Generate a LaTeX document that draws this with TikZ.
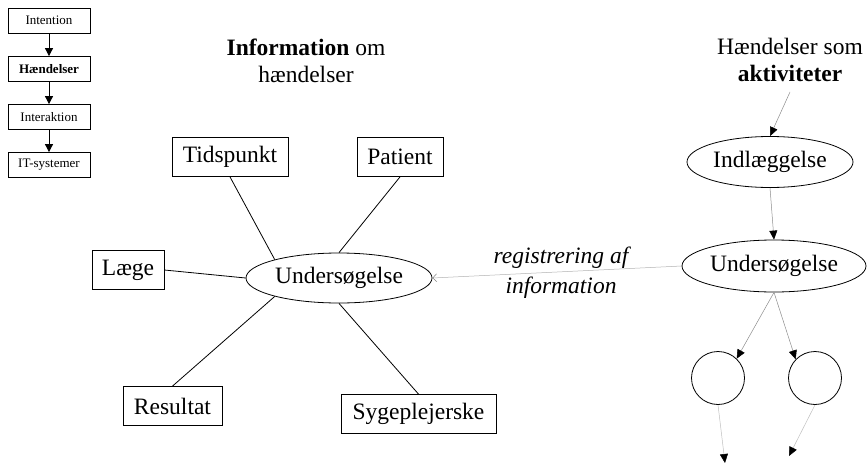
\documentclass[tikz,border=0pt]{standalone}
\usepackage{fontspec}
\setmainfont{Liberation Serif}
\usetikzlibrary{shapes.geometric,arrows.meta}
\begin{document}
\begin{tikzpicture}[x=1pt,y=-1pt,
  big/.style={font=\fontsize{23.5}{27}\selectfont},
  small/.style={font=\fontsize{13}{15}\selectfont},
  sbox/.style={draw,line width=0.8pt,rectangle,small,minimum width=82pt,minimum height=25pt,inner sep=0pt},
  bbox/.style={draw,line width=0.8pt,rectangle,big,minimum height=39pt,inner sep=0pt},
  ell/.style={draw,line width=0.8pt,ellipse,big,inner sep=0pt},
  circ/.style={draw,line width=0.8pt,circle,minimum size=53pt,inner sep=0pt},
  blk/.style={line width=0.8pt,-{Triangle[length=8pt,width=8pt]}},
  gry/.style={draw=black!45,line width=0.5pt,-{Triangle[length=9pt,width=8pt,color=black]}},
  spoke/.style={line width=0.8pt}
]
\useasboundingbox (0,0) rectangle (867,463);

% left mini diagram
\node[sbox] (int) at (49,20.5) {Intention};
\node[sbox,font=\fontsize{13}{15}\selectfont\bfseries] (hae) at (49,69) {Hændelser};
\node[sbox] (ita) at (49,117) {Interaktion};
\node[sbox] (its) at (49,165) {IT-systemer};
\draw[blk] (int) -- (hae);
\draw[blk] (hae) -- (ita);
\draw[blk] (ita) -- (its);

% titles
\node[big,align=center] (t1) at (306,61) {\textbf{Information} om\\hændelser};
\node[big,align=center] (t2) at (790,60) {Hændelser som\\\textbf{aktiviteter}};

% center star
\node[ell,minimum width=186pt,minimum height=50pt] (u) at (339,278) {Undersøgelse};
\node[bbox,minimum width=116pt] (tid) at (230,157) {Tidspunkt};
\node[bbox,minimum width=86pt] (pat) at (400,157) {Patient};
\node[bbox,minimum width=72pt] (lae) at (128,270) {Læge};
\node[bbox,minimum width=99pt] (res) at (172.5,406) {Resultat};
\node[bbox,minimum width=155pt] (syg) at (418.5,414) {Sygeplejerske};
\draw[spoke] (tid.south) -- (u.164);
\draw[spoke] (pat.south) -- (u.north);
\draw[spoke] (lae.east) -- (u.west);
\draw[spoke] (res.north) -- (u.196);
\draw[spoke] (syg.north) -- (u.south);

% right side
\node[ell,minimum width=166pt,minimum height=51pt] (ind) at (770,162) {Indlæggelse};
\node[ell,minimum width=184pt,minimum height=52pt] (u2) at (774,266) {Undersøgelse};
\node[circ] (c1) at (718,378) {};
\node[circ] (c2) at (815,378) {};
\coordinate (top) at (790,92);
\coordinate (e1) at (725,463);
\coordinate (e2) at (789,456);
\draw[gry] (top) -- (ind.north);
\draw[gry] (ind.south) -- (u2.north);
\draw[gry] (u2.south) -- (c1.46);
\draw[gry] (u2.south) -- (c2.136);
\draw[gry,draw=black!25] (c1.south) -- (e1);
\draw[gry,draw=black!25] (c2.south) -- (e2);

% registration arrow
\draw[draw=black!30,line width=0.5pt,-{Straight Barb[length=4pt,width=8pt,color=black!50]}] (u2.west) -- (u.east);
\node[big,align=center,font=\fontsize{23.5}{30}\selectfont\itshape] (reg) at (561,273) {registrering af\\information};
\end{tikzpicture}
\end{document}
